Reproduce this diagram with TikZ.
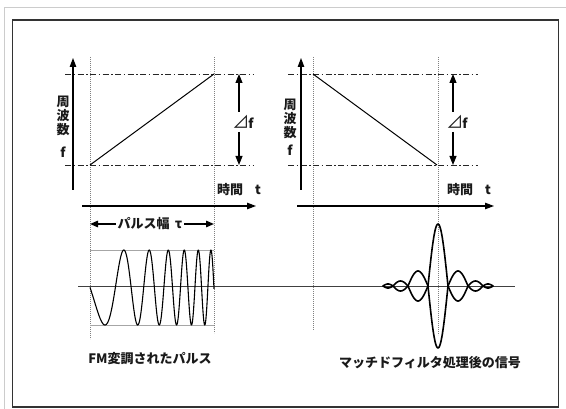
\documentclass[tikz,border=0pt]{standalone}
\usepackage{fontspec}
\newfontfamily\jp{Noto Sans CJK JP}
\usetikzlibrary{arrows.meta}
\newcommand{\bigtri}{{\mdseries\fontsize{17}{17}\selectfont ⊿}\kern-1pt}
\tikzset{
  axisline/.style={line width=1.1pt, -{Triangle[length=9pt,width=6.5pt]}},
  dfarrow/.style={line width=1.1pt, -{Triangle[length=9pt,width=7pt]}},
  pwarrow/.style={line width=1.4pt, -{Triangle[length=8pt,width=6.5pt]}},
  guide/.style={gray, line width=0.8pt, dash pattern=on 0.8pt off 1.2pt},
  dashdot/.style={line width=0.8pt, black!85, dash pattern=on 6pt off 2.5pt on 1.5pt off 2.5pt},
  ramp/.style={line width=1pt},
  bound/.style={gray!70, line width=0.7pt},
  centre/.style={black!75, line width=0.8pt},
  chirp/.style={line width=1.1pt, line join=round},
  pulse/.style={line width=1.6pt, line cap=round, line join=round},
  lbl/.style={font=\jp\bfseries\fontsize{13}{15}\selectfont, inner sep=0pt, text=black!90},
}
\begin{document}
\begin{tikzpicture}[x=1pt,y=-1pt]
\useasboundingbox (0,0) rectangle (566,409);
% frames
\draw[gray!40, line width=0.8pt] (4,409) -- (4,7) -- (566,7);
\draw[black!80, line width=1.2pt] (12.5,20) rectangle (558.5,407);

% ---------- left graph ----------
\coordinate (LfB) at (73,190); \coordinate (LfT) at (73,58);
\coordinate (LtL) at (82,206); \coordinate (LtR) at (256,206);
\draw[guide] (90,57) -- (90,339);
\draw[guide] (214,57) -- (214,333);
\draw[dashdot] (65,74) -- (253,74);
\draw[dashdot] (65,165) -- (253,165);
\coordinate (Lr1) at (90,165); \coordinate (Lr2) at (214,74);
\draw[ramp] (Lr1) -- (Lr2);
\draw[axisline] (LfB) -- (LfT);
\draw[axisline] (LtL) -- (LtR);
\node[lbl, align=center] (Lfreq) at (63,116) {周\\[-1pt]波\\[-1pt]数};
\node[lbl] (Lf) at (63,152) {f};
\node[lbl] (Ltime) at (230,190) {時間};
\node[lbl] (Lt) at (258,190) {t};
\node[lbl] (Ldf) at (243,122) {\bigtri f};
\coordinate (LdfT) at (239,74); \coordinate (LdfB) at (239,165);
\draw[dfarrow] (239,112) -- (LdfT);
\draw[dfarrow] (239,132) -- (LdfB);

% pulse width
\node[lbl] (pw) at (150,224) {パルス幅 \,τ};
\coordinate (pwL) at (90,224); \coordinate (pwR) at (214,224);
\draw[pwarrow] (pw.west) ++(-2,0) -- (pwL);
\draw[pwarrow] (pw.east) ++(2,0) -- (pwR);

% chirp
\draw[bound] (90,250) -- (214,250);
\draw[bound] (90,325) -- (214,325);
\draw[centre] (78,286) -- (515,286);
\draw[chirp] plot[domain=0:124, samples=500] ({90+\x}, {287.5+37.5*sin(deg(0.0773*\x+0.001829*\x*\x))});
\node[lbl] (Lcap) at (150,359) {FM変調されたパルス};

% ---------- right graph ----------
\coordinate (RfB) at (301,190); \coordinate (RfT) at (301,58);
\coordinate (RtL) at (297,206); \coordinate (RtR) at (494,206);
\draw[guide] (313,57) -- (313,330);
\draw[guide] (438,57) -- (438,335);
\draw[dashdot] (288,74) -- (478,74);
\draw[dashdot] (288,165) -- (478,165);
\coordinate (Rr1) at (313,74); \coordinate (Rr2) at (437,165);
\draw[ramp] (Rr1) -- (Rr2);
\draw[axisline] (RfB) -- (RfT);
\draw[axisline] (RtL) -- (RtR);
\node[lbl, align=center] (Rfreq) at (290,119) {周\\[-1pt]波\\[-1pt]数};
\node[lbl] (Rf) at (290,150) {f};
\node[lbl] (Rtime) at (460,190) {時間};
\node[lbl] (Rt) at (488,190) {t};
\node[lbl] (Rdf) at (457,122) {\bigtri f};
\coordinate (RdfT) at (453,74); \coordinate (RdfB) at (453,165);
\draw[dfarrow] (453,112) -- (RdfT);
\draw[dfarrow] (453,132) -- (RdfB);

% compressed pulse
\foreach \a/\b/\h in {383/393/-2, 393/408/5, 408/428/-15, 428/448/62, 448/468/-15, 468/483/5, 483/493/-2} {
  \draw[pulse] plot[domain=\a:\b, samples=40] (\x, {286-\h*sin(180*(\x-\a)/(\b-\a))});
  \draw[pulse] plot[domain=\a:\b, samples=40] (\x, {286+\h*sin(180*(\x-\a)/(\b-\a))});
}
\node[lbl] (Rcap) at (430,363) {マッチドフィルタ処理後の信号};
\end{tikzpicture}
\end{document}
